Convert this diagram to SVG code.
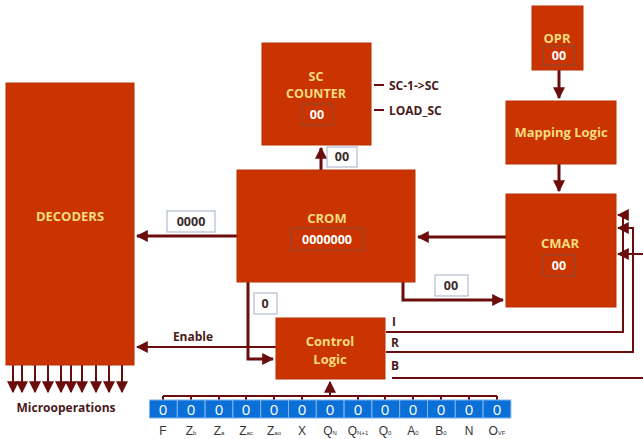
<svg xmlns="http://www.w3.org/2000/svg" width="643" height="439" viewBox="0 0 643 439">
<defs>
<marker id="ah" viewBox="0 0 10 10" refX="9" refY="5" markerWidth="4" markerHeight="4" orient="auto" markerUnits="strokeWidth">
<path d="M0,0 L10,5 L0,10 Z" fill="#6b0d0d"/>
</marker>
<marker id="ahs" viewBox="0 0 10 10" refX="9" refY="5" markerWidth="6" markerHeight="6" orient="auto" markerUnits="strokeWidth">
<path d="M0,0 L10,5 L0,10 Z" fill="#6b0d0d"/>
</marker>
</defs>
<style>
.box{fill:#c93400;stroke:#b83000;stroke-width:1}
.ttl{font-family:"Open Sans","Liberation Sans",sans-serif;font-weight:bold;font-size:13px;fill:#f7dc80;text-anchor:middle}
.inbox{fill:none;stroke:#8a4a3a;stroke-width:1}
.inval{font-family:"Open Sans","Liberation Sans",sans-serif;font-weight:bold;font-size:12.5px;fill:#ffffff;text-anchor:middle}
.vbox{fill:#ffffff;stroke:#9fb0c8;stroke-width:1}
.vtxt{font-family:"Open Sans","Liberation Sans",sans-serif;font-weight:bold;font-size:12.5px;fill:#3a2a2a;text-anchor:middle}
.lbl{font-family:"Open Sans","Liberation Sans",sans-serif;font-weight:bold;font-size:12px;fill:#4a1a1a}
.ln{fill:none;stroke:#6b0d0d;stroke-width:3}
.thin{fill:none;stroke:#6b0d0d;stroke-width:2}
.cell{fill:#0b6fd8;stroke:#7fb3ee;stroke-width:1}
.cz{font-family:"Open Sans","Liberation Sans",sans-serif;font-size:15px;fill:#ffffff;text-anchor:middle}
.fl{font-family:"Liberation Sans","Open Sans",sans-serif;font-size:12px;fill:#333333;text-anchor:middle}
.sb{font-size:6px}
</style>
<g id="connectors">
<path class="ln" d="M321,170 L321,148" marker-end="url(#ah)"/>
<path class="ln" d="M237,236 L137,236" marker-end="url(#ah)"/>
<path class="ln" d="M506,237 L418,237" marker-end="url(#ah)"/>
<path class="ln" d="M559,70 L559,98" marker-end="url(#ah)"/>
<path class="ln" d="M559,164 L559,191" marker-end="url(#ah)"/>
<path class="ln" d="M403,282 L403,300 L503,300" marker-end="url(#ah)"/>
<path class="ln" d="M248,282 L248,359 L273,359" marker-end="url(#ah)"/>
<path class="thin" d="M276,347 L137,347" marker-end="url(#ahs)"/>
<path class="thin" d="M374,85 L384,85 M374,110 L384,110"/>
<path class="thin" d="M386,332 L623,332 L623,215 L618,215" marker-end="url(#ahs)"/>
<path class="thin" d="M386,352 L633,352 L633,228 L618,228" marker-end="url(#ahs)"/>
<path class="thin" d="M392,378 L643,378"/>
<path class="thin" d="M643,254 L618,254" marker-end="url(#ahs)"/>
<path class="thin" d="M330,396 L330,382" marker-end="url(#ahs)"/>
<path class="thin" d="M163,396 L497,396"/>
<path class="thin" d="M163,396 V400 M191,396 V400 M219,396 V400 M246,396 V400 M274,396 V400 M302,396 V400 M358,396 V400 M385,396 V400 M413,396 V400 M441,396 V400 M469,396 V400 M497,396 V400"/>
<path class="thin" d="M13,365 V392" marker-end="url(#ahs)"/>
<path class="thin" d="M22,365 V392" marker-end="url(#ahs)"/>
<path class="thin" d="M35,365 V392" marker-end="url(#ahs)"/>
<path class="thin" d="M48,365 V392" marker-end="url(#ahs)"/>
<path class="thin" d="M61,365 V392" marker-end="url(#ahs)"/>
<path class="thin" d="M71,365 V392" marker-end="url(#ahs)"/>
<path class="thin" d="M82,365 V392" marker-end="url(#ahs)"/>
<path class="thin" d="M96,365 V392" marker-end="url(#ahs)"/>
<path class="thin" d="M109,365 V392" marker-end="url(#ahs)"/>
<path class="thin" d="M122,365 V392" marker-end="url(#ahs)"/>
</g>
<g id="decoders">
<rect class="box" x="6" y="83" width="128" height="282"/>
<text class="ttl" x="70" y="221">DECODERS</text>
<text class="lbl" x="66" y="412" text-anchor="middle">Microoperations</text>
</g>
<g id="sc-counter">
<rect class="box" x="262" y="43" width="109" height="102"/>
<text class="ttl" x="316" y="81" style="font-size:12.5px">SC</text>
<text class="ttl" x="316" y="98" style="font-size:12.5px">COUNTER</text>
<rect class="inbox" x="301" y="104" width="32" height="21"/>
<text class="inval" x="317" y="119">00</text>
<text class="lbl" x="389" y="90">SC-1-&gt;SC</text>
<text class="lbl" x="389" y="115">LOAD_SC</text>
</g>
<g id="crom">
<rect class="box" x="237" y="170" width="178" height="112"/>
<text class="ttl" x="327" y="223">CROM</text>
<rect class="inbox" x="291" y="228" width="73" height="22"/>
<text class="inval" x="327" y="244">0000000</text>
</g>
<g id="opr">
<rect class="box" x="532" y="6" width="51" height="64"/>
<text class="ttl" x="557" y="43">OPR</text>
<rect class="inbox" x="543" y="46" width="32" height="19"/>
<text class="inval" x="559" y="60">00</text>
</g>
<g id="mapping-logic">
<rect class="box" x="506" y="101" width="110" height="63"/>
<text class="ttl" x="561" y="137">Mapping Logic</text>
</g>
<g id="cmar">
<rect class="box" x="506" y="194" width="110" height="113"/>
<text class="ttl" x="560" y="248">CMAR</text>
<rect class="inbox" x="543" y="255" width="32" height="21"/>
<text class="inval" x="559" y="270">00</text>
</g>
<g id="control-logic">
<rect class="box" x="276" y="318" width="109" height="61"/>
<text class="ttl" x="330" y="346">Control</text>
<text class="ttl" x="330" y="364">Logic</text>
<text class="lbl" x="392" y="326">I</text>
<text class="lbl" x="391" y="347">R</text>
<text class="lbl" x="391" y="370">B</text>
</g>
<g id="values">
<rect class="vbox" x="327" y="147" width="30" height="20"/>
<text class="vtxt" x="342" y="161">00</text>
<rect class="vbox" x="167" y="211" width="48" height="21"/>
<text class="vtxt" x="191" y="226">0000</text>
<rect class="vbox" x="435" y="275" width="33" height="21"/>
<text class="vtxt" x="451" y="290">00</text>
<rect class="vbox" x="254" y="293" width="23" height="21"/>
<text class="vtxt" x="265" y="308">0</text>
<text class="lbl" x="193" y="341" text-anchor="middle">Enable</text>
</g>
<g id="register">
<rect class="cell" x="149.5" y="400" width="27.8" height="18"/>
<rect class="cell" x="177.3" y="400" width="27.8" height="18"/>
<rect class="cell" x="205.1" y="400" width="27.8" height="18"/>
<rect class="cell" x="232.9" y="400" width="27.8" height="18"/>
<rect class="cell" x="260.7" y="400" width="27.8" height="18"/>
<rect class="cell" x="288.5" y="400" width="27.8" height="18"/>
<rect class="cell" x="316.3" y="400" width="27.8" height="18"/>
<rect class="cell" x="344.1" y="400" width="27.8" height="18"/>
<rect class="cell" x="371.9" y="400" width="27.8" height="18"/>
<rect class="cell" x="399.7" y="400" width="27.8" height="18"/>
<rect class="cell" x="427.5" y="400" width="27.8" height="18"/>
<rect class="cell" x="455.3" y="400" width="27.8" height="18"/>
<rect class="cell" x="483.1" y="400" width="27.8" height="18"/>
<text class="cz" x="163" y="415">0</text>
<text class="cz" x="191" y="415">0</text>
<text class="cz" x="219" y="415">0</text>
<text class="cz" x="246" y="415">0</text>
<text class="cz" x="274" y="415">0</text>
<text class="cz" x="302" y="415">0</text>
<text class="cz" x="330" y="415">0</text>
<text class="cz" x="358" y="415">0</text>
<text class="cz" x="385" y="415">0</text>
<text class="cz" x="413" y="415">0</text>
<text class="cz" x="441" y="415">0</text>
<text class="cz" x="469" y="415">0</text>
<text class="cz" x="497" y="415">0</text>
<text class="fl" x="163" y="435">F</text>
<text class="fl" x="191" y="435">Z<tspan class="sb">b</tspan></text>
<text class="fl" x="219" y="435">Z<tspan class="sb">a</tspan></text>
<text class="fl" x="246" y="435">Z<tspan class="sb">ac</tspan></text>
<text class="fl" x="274" y="435">Z<tspan class="sb">ao</tspan></text>
<text class="fl" x="302" y="435">X</text>
<text class="fl" x="330" y="435">Q<tspan class="sb">N</tspan></text>
<text class="fl" x="358" y="435">Q<tspan class="sb">N+1</tspan></text>
<text class="fl" x="385" y="435">Q<tspan class="sb">0</tspan></text>
<text class="fl" x="413" y="435">A<tspan class="sb">0</tspan></text>
<text class="fl" x="441" y="435">B<tspan class="sb">0</tspan></text>
<text class="fl" x="469" y="435">N</text>
<text class="fl" x="497" y="435">O<tspan class="sb">VF</tspan></text>
</g>
</svg>
